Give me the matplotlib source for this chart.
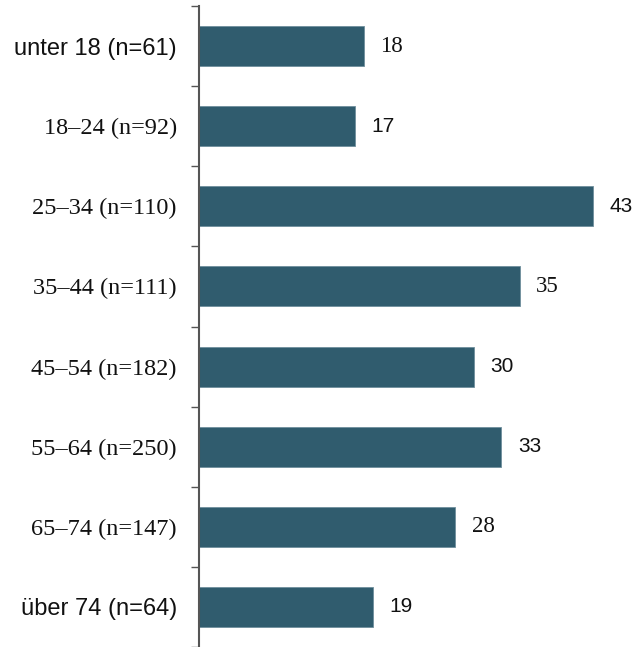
import numpy as np
import matplotlib
matplotlib.use("Agg")
import matplotlib.pyplot as plt
from matplotlib.ticker import FixedLocator

# data
categories = ["unter 18 (n=61)", "18–24 (n=92)", "25–34 (n=110)", "35–44 (n=111)",
              "45–54 (n=182)", "55–64 (n=250)", "65–74 (n=147)", "über 74 (n=64)"]
values = [18, 17, 43, 35, 30, 33, 28, 19]

# the original mixes a sans and a serif face
label_serif = [False, True, True, True, True, True, True, False]
value_serif = [True, False, False, True, False, False, True, False]

SANS = "Liberation Sans"
SERIF = "Liberation Serif"
BAR = "#305c6e"
SANS_SIZE = 17
SERIF_SIZE = 17.5
VALUE_SANS_SIZE = 15
VALUE_SERIF_SIZE = 16.5

fig = plt.figure(figsize=(6.35, 6.47), dpi=100)
ax = fig.add_axes([199 / 635, 0, 436 / 635, 641 / 647])

y = np.arange(len(categories))
ax.barh(y, values, height=0.5, color=BAR, edgecolor="#6f8f9c", linewidth=0.6)

ax.set_ylim(len(categories) - 0.5, -0.5)
ax.set_xlim(0, 47.6)

ax.set_yticks(y)
ax.set_yticklabels(categories)
for lbl, serif in zip(ax.get_yticklabels(), label_serif):
    lbl.set_fontfamily(SERIF if serif else SANS)
    lbl.set_fontsize(SERIF_SIZE if serif else SANS_SIZE)
    lbl.set_color("#111111")
ax.tick_params(axis="y", which="major", length=0, pad=16)
ax.yaxis.set_minor_locator(FixedLocator(np.arange(-0.5, len(categories) + 0.5, 1)))
ax.tick_params(axis="y", which="minor", length=6, width=1, color="#555555")

for i, (v, serif) in enumerate(zip(values, value_serif)):
    ax.text(v + 1.8, i, str(v), va="center", ha="left",
            fontsize=VALUE_SERIF_SIZE if serif else VALUE_SANS_SIZE,
            family=SERIF if serif else SANS, color="#111111")

ax.set_xticks([])
for s in ["top", "right", "bottom"]:
    ax.spines[s].set_visible(False)
ax.spines["left"].set_color("#555555")
ax.spines["left"].set_linewidth(1.5)

fig.savefig("out.png", dpi=100)
